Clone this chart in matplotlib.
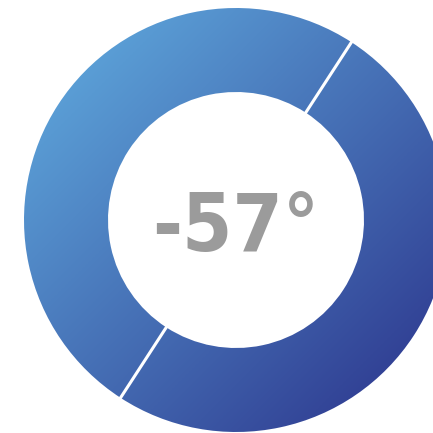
import numpy as np
import matplotlib.pyplot as plt
from matplotlib.patches import Wedge
from matplotlib.colors import LinearSegmentedColormap

segments = [180, 180]
start_angle = 57
label = '-57°'

cx, cy = 236, 433 - 220
R, r = 212, 128

fig = plt.figure(figsize=(4.33, 4.33), dpi=100)
ax = fig.add_axes([0, 0, 1, 1])
ax.set_xlim(0, 433)
ax.set_ylim(0, 433)
ax.axis('off')

cmap = LinearSegmentedColormap.from_list('g', ['#62b0e2', '#2a3089'])
xs = np.linspace(cx - R, cx + R, 300)
ys = np.linspace(cy - R, cy + R, 300)
X, Y = np.meshgrid(xs, ys)
T = ((X - (cx - R)) + ((cy + R) - Y)) / (4 * R)

ang = start_angle
for s in segments:
    w = Wedge((cx, cy), R, ang, ang + s, width=R - r, facecolor='none', edgecolor='none')
    ax.add_patch(w)
    im = ax.imshow(T, cmap=cmap, vmin=0, vmax=1, origin='lower',
                   extent=(cx - R, cx + R, cy - R, cy + R), interpolation='bilinear')
    im.set_clip_path(w)
    ang += s

ax.set_xlim(0, 433)
ax.set_ylim(0, 433)

ang = start_angle
for s in segments:
    a = np.radians(ang)
    ax.plot([cx + (r - 2) * np.cos(a), cx + (R + 2) * np.cos(a)],
            [cy + (r - 2) * np.sin(a), cy + (R + 2) * np.sin(a)],
            color='white', lw=2.2, solid_capstyle='butt')
    ang += s

ax.text(cx, cy - 9, label, ha='center', va='center', color='#9b9b9b',
        fontsize=58, fontweight='bold', fontstretch='condensed',
        family=['DejaVu Sans'])

fig.savefig('out.png', dpi=100)
